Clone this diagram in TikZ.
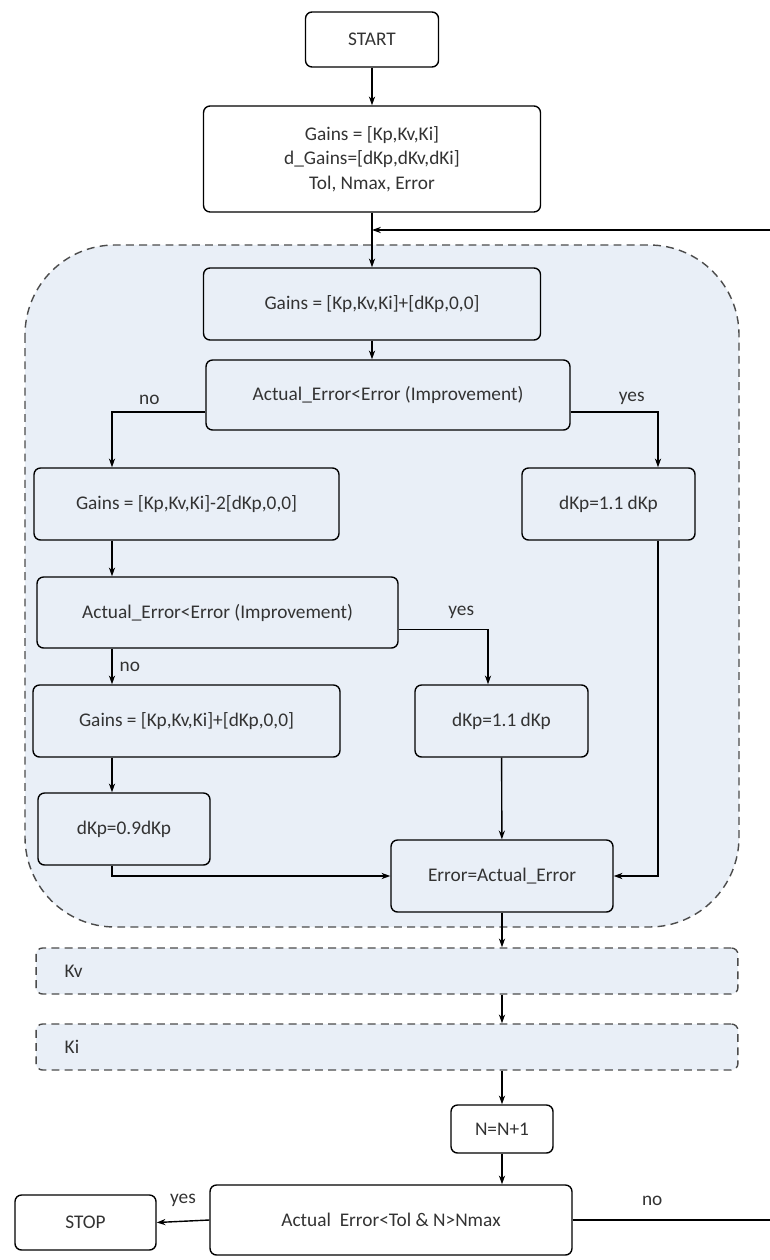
\documentclass[tikz,border=0pt]{standalone}
\usepackage{fontspec}
\setmainfont{Carlito}
\usetikzlibrary{arrows.meta,positioning}
\definecolor{regionfill}{HTML}{E9EFF7}
\definecolor{txtgray}{HTML}{333333}
\tikzset{
  blk/.style 2 args={draw, rounded corners=0.13cm, line width=0.8pt,
    minimum width=#1cm, minimum height=#2cm, inner sep=2pt,
    align=center, text=txtgray, font=\fontsize{11}{14}\selectfont},
  band/.style={draw=black!70, dashed, dash pattern=on 4.5pt off 3pt,
    rounded corners=0.13cm, line width=0.8pt, fill=regionfill,
    minimum width=14.04cm, minimum height=0.92cm},
  arr/.style={line width=0.8pt, -{Stealth[length=5pt,width=3.5pt]}},
  lbl/.style={text=txtgray, font=\fontsize{11}{14}\selectfont, inner sep=0pt}
}
\begin{document}
\begin{tikzpicture}[x=0.02cm,y=-0.02cm]
\useasboundingbox (0,0) rectangle (769,1260);
% dashed region of the Kp loop
\draw[black!70, dashed, dash pattern=on 4.5pt off 3pt, line width=0.8pt,
      fill=regionfill, rounded corners=1.8cm] (25,245) rectangle (739,927);
% blocks
\node[blk={2.66}{1.1}]  (start) at (372,39.5) {START};
\node[blk={6.74}{2.12}] (init)  at (372,159) {Gains = [Kp,Kv,Ki]\\d\_Gains=[dKp,dKv,dKi]\\Tol, Nmax, Error};
\node[blk={6.74}{1.44}] (gp1)   at (372,304) {Gains = [Kp,Kv,Ki]+[dKp,0,0]};
\node[blk={7.28}{1.4}]  (dec1)  at (388,395) {Actual\_Error<Error (Improvement)};
\node[blk={6.1}{1.44}]  (gm2)   at (186.5,504) {Gains = [Kp,Kv,Ki]-2[dKp,0,0]};
\node[blk={3.46}{1.44}] (dkp1)  at (608.5,504) {dKp=1.1 dKp};
\node[blk={7.22}{1.42}] (dec2)  at (217.5,612.5) {Actual\_Error<Error (Improvement)};
\node[blk={6.14}{1.44}] (gp2)   at (186.5,721) {Gains = [Kp,Kv,Ki]+[dKp,0,0]};
\node[blk={3.46}{1.44}] (dkp2)  at (501.5,721) {dKp=1.1 dKp};
\node[blk={3.44}{1.44}] (d09)   at (124,829) {dKp=0.9dKp};
\node[blk={4.44}{1.44}] (err)   at (502,876) {Error=Actual\_Error};
\node[band] (kv) at (387,971) {};
\node[band] (ki) at (387,1047) {};
\node[lbl, right=0.58cm of kv.west] (kvt) {Kv};
\node[lbl, right=0.58cm of ki.west] (kit) {Ki};
\node[blk={2.04}{0.96}] (nbox)  at (502,1129) {N=N+1};
\node[blk={7.24}{1.4}]  (fin)   at (391,1220) {Actual\ \ Error<Tol \& N>Nmax};
\node[blk={2.82}{1.1}]  (stop)  at (85.5,1222.5) {STOP};
% helper points
\coordinate (colL) at (112,0);
\coordinate (colR) at (658,0);
\coordinate (merge) at (372,230);
\coordinate (rtb) at (800,1220);
\coordinate (rtt) at (800,230);
% connectors
\draw[arr] (start) -- (init);
\draw[arr] (init) -- (gp1);
\draw[arr] (gp1.south) -- (gp1.south |- dec1.north);
\draw[arr] ([yshift=-0.34cm]dec1.west) -| (colL |- gm2.north) node[lbl, pos=0.3, above=4pt] {no};
\draw[arr] ([yshift=-0.34cm]dec1.east) -| (colR |- dkp1.north) node[lbl, pos=0.35, above=4pt] {yes};
\draw[arr] (colL |- gm2.south) -- (colL |- dec2.north);
\draw[arr] ([yshift=-0.34cm]dec2.east) -| ([xshift=-0.27cm]dkp2.north) node[lbl, pos=0.35, above=6pt] {yes};
\draw[arr] (colL |- dec2.south) -- (colL |- gp2.north) node[lbl, midway, right=4pt] {no};
\draw[arr] (colL |- gp2.south) -- (colL |- d09.north);
\draw[arr] (colL |- d09.south) |- (err.west);
\draw[arr] (dkp2) -- (err);
\draw[arr] (colR |- dkp1.south) |- (err.east);
\draw[arr] (err.south) -- (err.south |- kv.north);
\draw[arr] (err.south |- kv.south) -- (err.south |- ki.north);
\draw[arr] (err.south |- ki.south) -- (nbox.north);
\draw[arr] (nbox.south) -- (nbox.south |- fin.north);
\draw[arr] (fin.west) -- (stop.east) node[lbl, midway, above=8pt] {yes};
\draw[arr] (fin.east) -- node[lbl, pos=0.35, above=8pt] {no} (rtb) -- (rtt) -- (merge);
\end{tikzpicture}
\end{document}
